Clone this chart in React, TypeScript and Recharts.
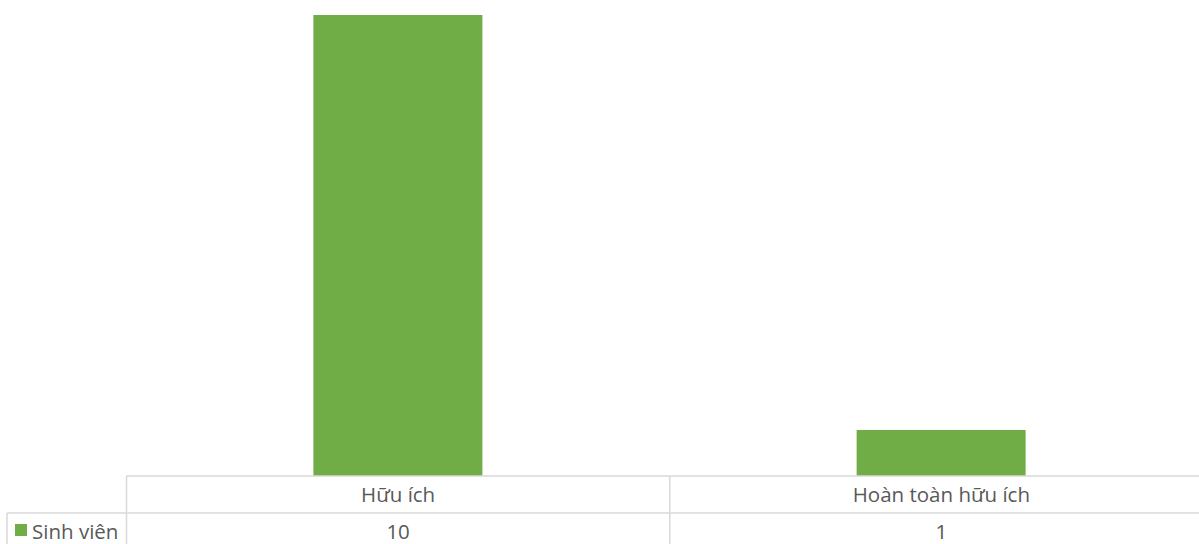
import { BarChart, Bar, XAxis, YAxis } from "recharts";

// chart data
const categories = ["Hữu ích", "Hoàn toàn hữu ích"];
const sinhVien = [10, 1];
const seriesName = "Sinh viên";

const data = categories.map((c, i) => ({ name: c, value: sinhVien[i] }));

const CHART_W = 1220;
const CHART_H = 544;
const MARGIN = { top: 15, right: 7, bottom: 0, left: 126.5 };
const PLOT_W = CHART_W - MARGIN.left - MARGIN.right;
const BAND = PLOT_W / categories.length;
const ROW_H = 37;
const GREEN = "#70AD47";
const LINE = "#D9D9D9";
const TEXT = "#595959";
const FONT = "'Open Sans', sans-serif";

// data table drawn under the axis, one column per category
const TableTick = (props: any) => {
  const { x, y, payload, index } = props;
  const left = x - BAND / 2;
  const right = x + BAND / 2;
  return (
    <g>
      <line x1={left} y1={y} x2={right} y2={y} stroke={LINE} strokeWidth={1.5} />
      <line x1={left} y1={y + ROW_H} x2={right} y2={y + ROW_H} stroke={LINE} strokeWidth={1.5} />
      <line x1={left} y1={y} x2={left} y2={y + ROW_H * 2} stroke={LINE} strokeWidth={1.5} />
      <text
        x={x}
        y={y + 26}
        textAnchor="middle"
        fill={TEXT}
        fontSize={20.5}
        fontFamily={FONT}
      >
        {payload.value}
      </text>
      <text
        x={x}
        y={y + ROW_H + 26}
        textAnchor="middle"
        fill={TEXT}
        fontSize={20.5}
        fontFamily={FONT}
      >
        {sinhVien[index]}
      </text>
      {index === 0 && (
        <g>
          <line x1={7} y1={y + ROW_H} x2={left} y2={y + ROW_H} stroke={LINE} strokeWidth={1.5} />
          <line x1={7} y1={y + ROW_H} x2={7} y2={y + ROW_H * 2} stroke={LINE} strokeWidth={1.5} />
          <rect x={15} y={y + ROW_H + 11} width={12} height={12} fill={GREEN} />
          <text
            x={32}
            y={y + ROW_H + 26}
            fill={TEXT}
            fontSize={20.5}
            fontFamily={FONT}
          >
            {seriesName}
          </text>
        </g>
      )}
    </g>
  );
};

export default function App() {
  return (
    <div
      style={{
        position: "fixed",
        top: 0,
        left: 0,
        width: 1199,
        height: 544,
        overflow: "hidden",
        background: "#fff",
      }}
    >
      <BarChart
        width={CHART_W}
        height={CHART_H}
        data={data}
        margin={MARGIN}
        barCategoryGap="34.4%"
      >
        <XAxis
          dataKey="name"
          height={68}
          axisLine={false}
          tickLine={false}
          tickSize={0}
          tickMargin={0}
          interval={0}
          tick={<TableTick />}
        />
        <YAxis hide domain={[0, 10]} />
        <Bar dataKey="value" name={seriesName} fill={GREEN} isAnimationActive={false} />
      </BarChart>
    </div>
  );
}
